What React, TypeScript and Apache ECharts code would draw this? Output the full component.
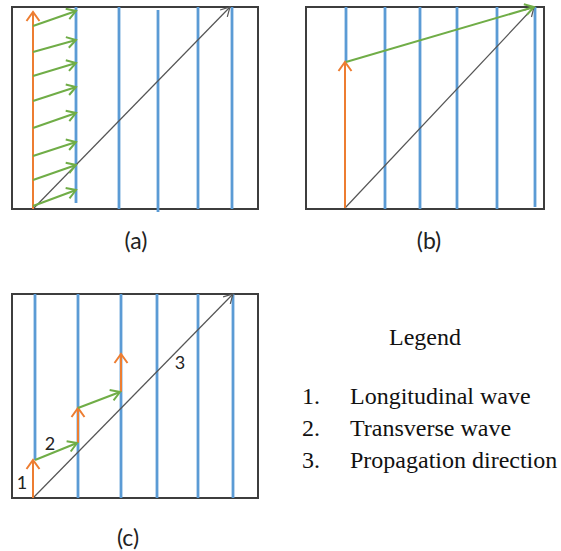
import React, { useEffect, useRef } from "react";
import * as echarts from "echarts";

// Panel sizes in box units (x right, y up from the bottom of each box)
const sizeA = [246, 202];
const sizeB = [238, 202];
const sizeC = [246, 204];

// Segments: [x1, y1, x2, y2]
const blueA = [[64, 6, 64, 202], [107, 0, 107, 202], [146, -3, 146, 199], [186, 0, 186, 202], [220, 0, 220, 202]];
const orangeA = [[21, 0, 21, 197]];
const greenA = [
  [21, 183, 64, 198], [21, 157, 64, 169], [21, 133, 64, 146], [21, 108, 64, 122],
  [21, 81, 64, 96], [21, 53, 64, 67], [21, 29, 64, 44], [21, 3, 64, 19],
];
const blackA = [[21, 0, 218, 202]];

const blueB = [[40, 147, 40, 202], [79, 0, 79, 202], [114, 0, 114, 202], [151, 0, 151, 202], [191, 0, 191, 202], [229, 2, 229, 202]];
const orangeB = [[39, 1, 39, 147]];
const greenB = [[40, 147, 228, 202]];
const blackB = [[39, 1, 228, 202]];

const blueC = [[23, 38, 23, 204], [66, 0, 66, 204], [109, 0, 109, 204], [145, 0, 145, 204], [186, 0, 186, 204], [221, 0, 221, 204]];
const orangeC = [[21, 0, 21, 38], [66, 55, 66, 90], [109, 106, 109, 144]];
const greenC = [[23, 38, 65, 55], [66, 90, 108, 106]];
const blackC = [[21, 0, 221, 204]];
const labelsC: [string, number, number][] = [["1", 10, 16], ["2", 38, 55], ["3", 168, 136]];

const captions = ["(a)", "(b)", "(c)"];
const legendTitle = "Legend";
const legendNums = ["1.", "2.", "3."];
const legendItems = ["Longitudinal wave", "Transverse wave", "Propagation direction"];

const BLUE = "#5B9BD5";
const ORANGE = "#ED7D31";
const GREEN = "#70AD47";
const BLACK = "#555555";

function segRender(color: string, width: number, head: boolean, headLen: number, headHalf: number) {
  return (params: any, api: any) => {
    const p1 = api.coord([api.value(0), api.value(1)]);
    const p2 = api.coord([api.value(2), api.value(3)]);
    const children: any[] = [
      { type: "line", shape: { x1: p1[0], y1: p1[1], x2: p2[0], y2: p2[1] }, style: { stroke: color, lineWidth: width } },
    ];
    if (head) {
      const dx = p2[0] - p1[0];
      const dy = p2[1] - p1[1];
      const L = Math.hypot(dx, dy) || 1;
      const ux = dx / L, uy = dy / L;
      const bx = p2[0] - ux * headLen, by = p2[1] - uy * headLen;
      const nx = -uy, ny = ux;
      children.push({
        type: "polyline",
        shape: { points: [[bx + nx * headHalf, by + ny * headHalf], [p2[0], p2[1]], [bx - nx * headHalf, by - ny * headHalf]] },
        style: { stroke: color, lineWidth: width, fill: "none" },
      });
    }
    return { type: "group", children };
  };
}

function seg(idx: number, data: number[][], color: string, width: number, head: boolean, headLen = 8, headHalf = 5, z = 2) {
  return {
    type: "custom",
    xAxisIndex: idx,
    yAxisIndex: idx,
    clip: false,
    z,
    silent: true,
    dimensions: ["x1", "y1", "x2", "y2"],
    encode: { x: [0, 2], y: [1, 3] },
    data,
    renderItem: segRender(color, width, head, headLen, headHalf),
  };
}

export default function App() {
  const ref = useRef<HTMLDivElement>(null);
  useEffect(() => {
    if (!ref.current) return;
    const chart = echarts.init(ref.current, undefined, { renderer: "svg" });
    const gridStyle = { show: true, borderColor: "#3d3d3d", borderWidth: 2, backgroundColor: "transparent", containLabel: false };
    const sizes = [sizeA, sizeB, sizeC];
    const capFont = "23px Lato, 'Open Sans', sans-serif";
    const serif = "24px 'Liberation Serif', serif";
    const option: any = {
      animation: false,
      backgroundColor: "#ffffff",
      grid: [
        { ...gridStyle, left: 12, top: 7, width: sizeA[0], height: sizeA[1] },
        { ...gridStyle, left: 306, top: 7, width: sizeB[0], height: sizeB[1] },
        { ...gridStyle, left: 12, top: 294, width: sizeC[0], height: sizeC[1] },
      ],
      xAxis: sizes.map((s, i) => ({ type: "value", gridIndex: i, min: 0, max: s[0], show: false })),
      yAxis: sizes.map((s, i) => ({ type: "value", gridIndex: i, min: 0, max: s[1], show: false })),
      series: [
        seg(0, blueA, BLUE, 2.8, false, 0, 0, 2),
        seg(0, blackA, BLACK, 1.2, true, 9, 5, 3),
        seg(0, orangeA, ORANGE, 2, true, 9, 6.5, 4),
        seg(0, greenA, GREEN, 2, true, 9, 5.5, 5),
        seg(1, blueB, BLUE, 2.8, false, 0, 0, 2),
        seg(1, blackB, BLACK, 1.2, true, 9, 5, 3),
        seg(1, orangeB, ORANGE, 2, true, 9, 6.5, 4),
        seg(1, greenB, GREEN, 2, true, 9, 5.5, 5),
        seg(2, blueC, BLUE, 2.8, false, 0, 0, 2),
        seg(2, blackC, BLACK, 1.2, true, 9, 5, 3),
        seg(2, orangeC, ORANGE, 2, true, 9, 6.5, 4),
        seg(2, greenC, GREEN, 2, true, 9, 5.5, 5),
        {
          type: "custom",
          xAxisIndex: 2,
          yAxisIndex: 2,
          clip: false,
          z: 6,
          silent: true,
          data: labelsC.map((l) => [l[1], l[2], l[0]]),
          renderItem: (params: any, api: any) => {
            const p = api.coord([api.value(0), api.value(1)]);
            return {
              type: "text",
              x: p[0],
              y: p[1],
              style: {
                text: labelsC[params.dataIndex][0],
                fill: "#222",
                font: "18px Lato, 'Open Sans', sans-serif",
                align: "center",
                verticalAlign: "middle",
              },
            };
          },
        },
      ],
      graphic: [
        { type: "text", x: 136, y: 240, style: { text: captions[0], font: capFont, fill: "#222", align: "center", verticalAlign: "middle" } },
        { type: "text", x: 429, y: 240, style: { text: captions[1], font: capFont, fill: "#222", align: "center", verticalAlign: "middle" } },
        { type: "text", x: 128, y: 537, style: { text: captions[2], font: capFont, fill: "#222", align: "center", verticalAlign: "middle" } },
        { type: "text", x: 425, y: 337, style: { text: legendTitle, font: serif, fill: "#111", align: "center", verticalAlign: "middle" } },
        ...legendNums.map((n, i) => ({
          type: "text", x: 302, y: 396 + i * 32,
          style: { text: n, font: serif, fill: "#111", align: "left", verticalAlign: "middle" },
        })),
        ...legendItems.map((t, i) => ({
          type: "text", x: 350, y: 396 + i * 32,
          style: { text: t, font: serif, fill: "#111", align: "left", verticalAlign: "middle" },
        })),
      ],
    };
    chart.setOption(option);
    return () => chart.dispose();
  }, []);
  return <div ref={ref} style={{ position: "absolute", left: 0, top: 0, width: 561, height: 551 }} />;
}
